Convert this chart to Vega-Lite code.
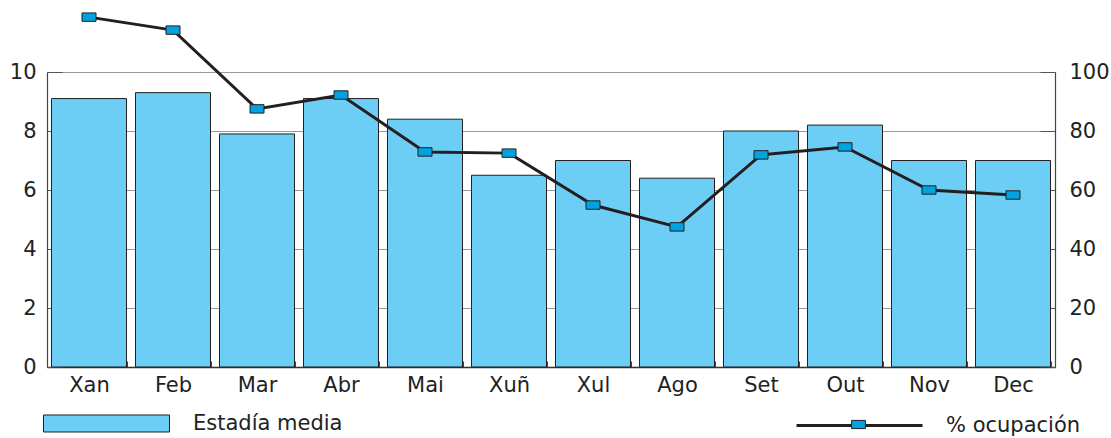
{
  "$schema": "https://vega.github.io/schema/vega-lite/v6.json",
  "width": 1008,
  "height": 295,
  "autosize": {"type": "none"},
  "padding": {"left": 47, "top": 72, "right": 56, "bottom": 71},
  "background": "white",
  "config": {
    "font": "DejaVu Sans",
    "view": {"stroke": null},
    "axis": {"labelFont": "DejaVu Sans", "labelFontSize": 21, "labelColor": "#222222", "titleFontSize": 0},
    "legend": {"labelFont": "DejaVu Sans", "labelFontSize": 21, "labelColor": "#222222", "padding": 0}
  },
  "data": {
    "values": [
      {"mes": "Xan", "estadia": 9.1, "ocupacion": 118.6},
      {"mes": "Feb", "estadia": 9.3, "ocupacion": 114.2},
      {"mes": "Mar", "estadia": 7.9, "ocupacion": 87.5},
      {"mes": "Abr", "estadia": 9.1, "ocupacion": 92.2},
      {"mes": "Mai", "estadia": 8.4, "ocupacion": 72.9},
      {"mes": "Xuñ", "estadia": 6.5, "ocupacion": 72.5},
      {"mes": "Xul", "estadia": 7.0, "ocupacion": 54.9},
      {"mes": "Ago", "estadia": 6.4, "ocupacion": 47.5},
      {"mes": "Set", "estadia": 8.0, "ocupacion": 71.9},
      {"mes": "Out", "estadia": 8.2, "ocupacion": 74.6},
      {"mes": "Nov", "estadia": 7.0, "ocupacion": 60.0},
      {"mes": "Dec", "estadia": 7.0, "ocupacion": 58.3}
    ]
  },
  "encoding": {
    "x": {
      "field": "mes",
      "type": "nominal",
      "sort": null,
      "scale": {"paddingInner": 0.107, "paddingOuter": 0.0535},
      "axis": {
        "title": null,
        "labelAngle": 0,
        "labelPadding": 13,
        "tickSize": -6,
        "tickBand": "extent",
        "tickColor": "#444444",
        "domainColor": "#333333",
        "domainWidth": 1.5
      }
    }
  },
  "layer": [
    {
      "mark": {"type": "bar", "stroke": "#231F20", "strokeWidth": 1},
      "encoding": {
        "y": {
          "field": "estadia",
          "type": "quantitative",
          "scale": {"domain": [0, 10], "nice": false},
          "axis": {
            "title": null,
            "values": [0, 2, 4, 6, 8, 10],
            "grid": true,
            "gridColor": "#9a9a9a",
            "gridWidth": 1.2,
            "tickSize": -15,
            "tickColor": "#555555",
            "domainColor": "#444444",
            "domainWidth": 1.2,
            "labelPadding": 26
          }
        },
        "fill": {
          "datum": "Estadía media",
          "scale": {"range": ["#6DCEF5"]},
          "legend": {
            "title": null,
            "orient": "none",
            "legendX": -4,
            "legendY": 288,
            "symbolType": "M-1,-0.135H1V0.135H-1Z",
            "symbolSize": 15876,
            "symbolStrokeColor": "#231F20",
            "symbolStrokeWidth": 1,
            "symbolOpacity": 1,
            "labelOffset": 23
          }
        }
      }
    },
    {
      "layer": [
        {
          "mark": {"type": "line", "strokeWidth": 3},
          "encoding": {
            "y": {"field": "ocupacion", "type": "quantitative"},
            "stroke": {
              "datum": "% ocupación",
              "scale": {"range": ["#231F20"]},
              "legend": {
                "title": null,
                "orient": "none",
                "legendX": 748,
                "legendY": 289,
                "symbolType": "M-1,0H-0.1M0.1,0H1",
                "symbolSize": 15876,
                "symbolStrokeWidth": 3,
                "symbolFillColor": "transparent",
                "labelOffset": 22
              }
            }
          }
        },
        {
          "mark": {"type": "point", "shape": "M-1,-0.6H1V0.6H-1Z", "size": 196, "filled": true, "fill": "#00A3E0", "stroke": "#231F20", "strokeWidth": 1, "opacity": 1},
          "encoding": {
            "y": {"field": "ocupacion", "type": "quantitative"},
            "fill": {
              "datum": "% ocupación",
              "scale": {"range": ["#00A3E0"]},
              "legend": {
                "title": null,
                "orient": "none",
                "legendX": 748,
                "legendY": 289,
                "symbolType": "M-0.11,-0.065H0.11V0.065H-0.11Z",
                "symbolSize": 15876,
                "symbolStrokeColor": "#231F20",
                "symbolStrokeWidth": 1,
                "symbolOpacity": 1,
                "labelOffset": 22,
                "labelOpacity": 0
              }
            }
          }
        }
      ],
      "encoding": {
        "y": {
          "field": "ocupacion",
          "type": "quantitative",
          "scale": {"domain": [0, 100], "nice": false},
          "axis": {
            "orient": "right",
            "title": null,
            "values": [0, 20, 40, 60, 80, 100],
            "grid": false,
            "tickSize": -15,
            "tickColor": "#555555",
            "domainColor": "#444444",
            "domainWidth": 1.2,
            "labelPadding": 29
          }
        }
      }
    }
  ],
  "resolve": {"scale": {"y": "independent", "fill": "independent"}, "legend": {"fill": "independent"}}
}
